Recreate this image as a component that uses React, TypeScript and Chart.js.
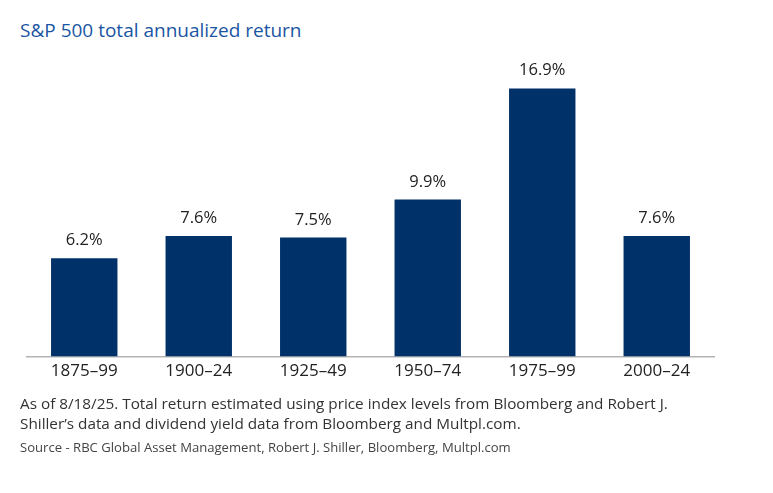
import React, { useEffect, useRef } from "react";
import { Chart, registerables } from "chart.js";

Chart.register(...registerables);

const categories = ["1875–99", "1900–24", "1925–49", "1950–74", "1975–99", "2000–24"];
const returns = [6.2, 7.6, 7.5, 9.9, 16.9, 7.6];
const valueLabels = ["6.2%", "7.6%", "7.5%", "9.9%", "16.9%", "7.6%"];

const FONT = "'Open Sans', sans-serif";

const labelPlugin = {
  id: "valueLabels",
  afterDatasetsDraw(chart: any) {
    const ctx = chart.ctx;
    const meta = chart.getDatasetMeta(0);
    ctx.save();
    ctx.fillStyle = "#222222";
    ctx.font = `16.5px ${FONT}`;
    ctx.textAlign = "center";
    ctx.textBaseline = "alphabetic";
    meta.data.forEach((el: any, i: number) => {
      ctx.fillText(valueLabels[i], el.x, el.y - 13);
    });
    ctx.restore();
  },
};

export default function App() {
  const ref = useRef<HTMLCanvasElement>(null);
  useEffect(() => {
    document.body.style.margin = "0";
    const chart = new Chart(ref.current!, {
      type: "bar",
      data: {
        labels: categories,
        datasets: [
          {
            data: returns,
            backgroundColor: "#003168",
            categoryPercentage: 1,
            barPercentage: 0.58,
          },
        ],
      },
      options: {
        animation: false,
        responsive: false,
        maintainAspectRatio: false,
        layout: { padding: { left: 27, right: 59, top: 71, bottom: 108 } },
        plugins: { legend: { display: false }, tooltip: { enabled: false } },
        scales: {
          x: {
            grid: { display: false, drawTicks: false },
            border: { display: true, color: "#b3b3b3", width: 1.5 },
            ticks: { color: "#222222", font: { family: FONT, size: 17 }, padding: 4 },
          },
          y: {
            display: false,
            min: 0,
            max: 18,
          },
        },
      },
      plugins: [labelPlugin],
    });
    return () => chart.destroy();
  }, []);

  return (
    <div style={{ position: "relative", width: 773, height: 493, background: "#fff", overflow: "hidden" }}>
      <div
        style={{
          position: "absolute",
          left: 20,
          top: 17,
          fontFamily: FONT,
          fontSize: 19,
          color: "#1a55a3",
          whiteSpace: "nowrap",
        }}
      >
        S&amp;P 500 total annualized return
      </div>
      <canvas ref={ref} width={773} height={493} style={{ position: "absolute", left: 0, top: 0 }} />
      <div
        style={{
          position: "absolute",
          left: 20,
          top: 393,
          fontFamily: FONT,
          fontSize: 15.3,
          lineHeight: "20px",
          color: "#333333",
          whiteSpace: "nowrap",
        }}
      >
        As of 8/18/25. Total return estimated using price index levels from Bloomberg and Robert J.
        <br />
        Shiller’s data and dividend yield data from Bloomberg and Multpl.com.
      </div>
      <div
        style={{
          position: "absolute",
          left: 20,
          top: 438,
          fontFamily: FONT,
          fontSize: 13.1,
          color: "#444444",
          whiteSpace: "nowrap",
        }}
      >
        Source - RBC Global Asset Management, Robert J. Shiller, Bloomberg, Multpl.com
      </div>
    </div>
  );
}
